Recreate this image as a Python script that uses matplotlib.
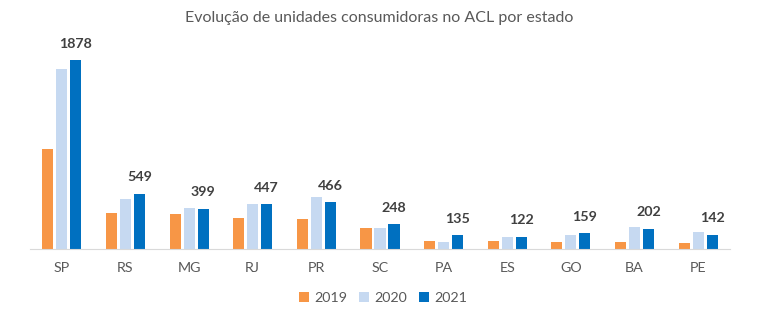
import matplotlib.pyplot as plt
import numpy as np

estados = ["SP", "RS", "MG", "RJ", "PR", "SC", "PA", "ES", "GO", "BA", "PE"]
anos = ["2019", "2020", "2021"]
uc_2019 = [995, 358, 350, 310, 300, 210, 80, 80, 70, 70, 60]
uc_2020 = [1790, 497, 408, 450, 517, 205, 65, 115, 140, 220, 170]
uc_2021 = [1878, 549, 399, 447, 466, 248, 135, 122, 159, 202, 142]

cores = ["#F79646", "#C6D9F1", "#0070C0"]

plt.rcParams["font.family"] = ["Lato", "DejaVu Sans"]

fig = plt.figure(figsize=(7.58, 3.25), dpi=100)
ax = fig.add_axes([30 / 758, 76 / 325, 700 / 758, (249 - 48) / 325])

x = np.arange(len(estados))
largura = 0.173
passo = 0.22
series = [uc_2019, uc_2020, uc_2021]
for i, (serie, cor, ano) in enumerate(zip(series, cores, anos)):
    ax.bar(x + (i - 1) * passo, serie, width=largura, color=cor, label=ano)

for xi, v in zip(x, uc_2021):
    ax.annotate(str(v), (xi + passo, v), xytext=(0, 7.5), textcoords="offset points",
                ha="center", va="bottom", fontsize=10.3, fontweight="bold", color="#404040")

ax.set_xlim(-0.5, len(estados) - 0.5)
ax.set_ylim(0, 2000)
ax.set_yticks([])
ax.set_xticks(x)
ax.set_xticklabels(estados, fontsize=10.3, color="#595959")
ax.tick_params(axis="x", length=0, pad=9)
for s in ["top", "right", "left"]:
    ax.spines[s].set_visible(False)
ax.spines["bottom"].set_color("#D9D9D9")

fig.suptitle("Evolução de unidades consumidoras no ACL por estado", x=0.5, y=1 - 18 / 325,
             va="center", fontsize=11.5, color="#595959")

leg = fig.legend(loc="center", bbox_to_anchor=(383 / 758, 1 - 298 / 325), ncol=3, frameon=False,
                 fontsize=10.3, handlelength=0.7, handleheight=0.7, handletextpad=0.4,
                 columnspacing=0.8)
for t in leg.get_texts():
    t.set_color("#595959")

fig.savefig("out.png", dpi=100)
